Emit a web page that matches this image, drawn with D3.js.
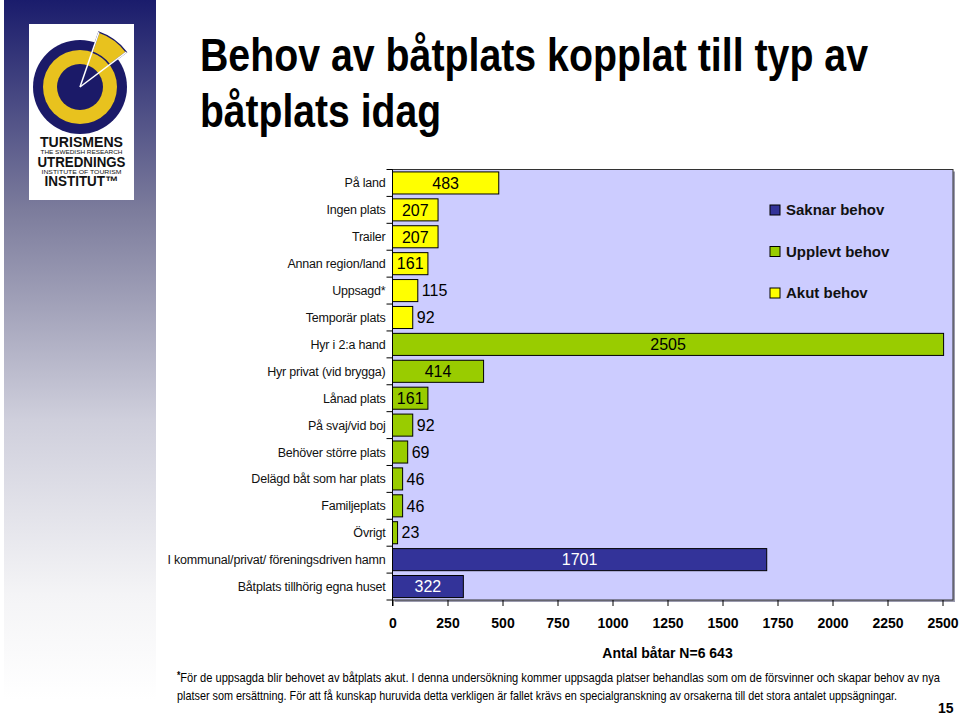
<!DOCTYPE html>
<html>
<head>
<meta charset="utf-8"/>
<title>Behov av båtplats</title>
<script src="https://cdn.jsdelivr.net/npm/d3@7"></script>
<style>
	body{ margin:0; background:#fff; }
	svg text{ font-family:"Liberation Sans", Arial, sans-serif; }
	svg text.narrow{ font-family:"Liberation Sans Narrow", "Liberation Sans", Arial, sans-serif; }
</style>
</head>
<body>
<div id="chart"></div>
<script>
// values
var categories = ["På land", "Ingen plats", "Trailer", "Annan region/land", "Uppsagd*", "Temporär plats",
	"Hyr i 2:a hand", "Hyr privat (vid brygga)", "Lånad plats", "På svaj/vid boj", "Behöver större plats",
	"Delägd båt som har plats", "Familjeplats", "Övrigt",
	"I kommunal/privat/ föreningsdriven hamn", "Båtplats tillhörig egna huset"];
var values = [483, 207, 207, 161, 115, 92, 2505, 414, 161, 92, 69, 46, 46, 23, 1701, 322];
var groups = ["Akut behov", "Akut behov", "Akut behov", "Akut behov", "Akut behov", "Akut behov",
	"Upplevt behov", "Upplevt behov", "Upplevt behov", "Upplevt behov", "Upplevt behov",
	"Upplevt behov", "Upplevt behov", "Upplevt behov", "Saknar behov", "Saknar behov"];
var seriesNames = ["Saknar behov", "Upplevt behov", "Akut behov"];
var seriesColors = ["#333399", "#99cc00", "#ffff00"];
var labelColors = ["#ffffff", "#000000", "#000000"];
var xTicks = [0, 250, 500, 750, 1000, 1250, 1500, 1750, 2000, 2250, 2500];

var width = 960, height = 714;
var svg = d3.select("#chart").append("svg")
	.attr("width", width)
	.attr("height", height);

var defs = svg.append("defs");
var grad = defs.append("linearGradient")
	.attr("id", "strip")
	.attr("x1", 0).attr("y1", 0).attr("x2", 0).attr("y2", 1);
grad.append("stop").attr("offset", "0").attr("stop-color", "#1a1c6c");
grad.append("stop").attr("offset", "0.3").attr("stop-color", "#7c7c9c");
grad.append("stop").attr("offset", "0.6").attr("stop-color", "#cfcfdc");
grad.append("stop").attr("offset", "0.85").attr("stop-color", "#f4f4f6");
grad.append("stop").attr("offset", "1").attr("stop-color", "#ffffff");

// left strip + logo
svg.append("rect")
	.attr("x", 4).attr("y", 0)
	.attr("width", 152).attr("height", 700)
	.attr("fill", "url(#strip)");

var logo = svg.append("g");
logo.append("rect")
	.attr("x", 29).attr("y", 24)
	.attr("width", 105).attr("height", 176)
	.attr("fill", "#fff");
var cx = 80, cy = 87;
logo.append("circle").attr("cx", cx).attr("cy", cy).attr("r", 47).attr("fill", "#1b1a68");
logo.append("circle").attr("cx", cx).attr("cy", cy).attr("r", 37).attr("fill", "#e8c21e");
logo.append("circle").attr("cx", cx).attr("cy", cy).attr("r", 23).attr("fill", "#1b1a68");
var a0 = 19 * Math.PI / 180, a1 = 53 * Math.PI / 180;
logo.append("path")
	.attr("transform", "translate(" + cx + "," + cy + ")")
	.attr("d", d3.arc()({innerRadius: 37, outerRadius: 58, startAngle: a0, endAngle: a1}))
	.attr("fill", "#e8c21e")
	.attr("stroke", "#1b1a68")
	.attr("stroke-width", 1.5);
[a0, a1].forEach(function(a){
	logo.append("line")
		.attr("x1", cx).attr("y1", cy)
		.attr("x2", cx + 58 * Math.sin(a)).attr("y2", cy - 58 * Math.cos(a))
		.attr("stroke", "#fff").attr("stroke-width", 1.5);
});
var logoText = [
	{t: "TURISMENS", y: 147, s: 14, w: 83, b: true},
	{t: "THE SWEDISH RESEARCH", y: 154, s: 6, w: 82, b: false},
	{t: "UTREDNINGS", y: 167, s: 14, w: 88, b: true},
	{t: "INSTITUTE OF TOURISM", y: 173.5, s: 6, w: 80, b: false},
	{t: "INSTITUT\u2122", y: 186, s: 14, w: 74, b: true}
];
logoText.forEach(function(d){
	logo.append("text")
		.attr("x", 81.5 - d.w / 2).attr("y", d.y)
		.attr("textLength", d.w).attr("lengthAdjust", "spacingAndGlyphs")
		.style("font-size", d.s + "px")
		.style("font-weight", d.b ? "bold" : "normal")
		.attr("fill", "#111")
		.text(d.t);
});

// title
svg.append("text")
	.attr("class", "narrow")
	.attr("x", 200).attr("y", 71)
	.attr("textLength", 668).attr("lengthAdjust", "spacingAndGlyphs")
	.style("font-size", "47px").style("font-weight", "bold")
	.text("Behov av båtplats kopplat till typ av");
svg.append("text")
	.attr("class", "narrow")
	.attr("x", 200).attr("y", 127)
	.attr("textLength", 241).attr("lengthAdjust", "spacingAndGlyphs")
	.style("font-size", "47px").style("font-weight", "bold")
	.text("båtplats idag");

// plot area
var pLeft = 392.5, pTop = 169.5, pBottom = 600, pRight = 953;
var x = d3.scaleLinear().domain([0, 2500]).range([pLeft, 942.5]);
var y = d3.scaleBand().domain(categories).range([pTop, pBottom]).paddingInner(0.18).paddingOuter(0.09);

svg.append("rect")
	.attr("x", pLeft + 2).attr("y", pTop + 2)
	.attr("width", pRight - pLeft).attr("height", pBottom - pTop)
	.attr("fill", "#9a9aae");
svg.append("rect")
	.attr("x", pLeft).attr("y", pTop)
	.attr("width", pRight - pLeft).attr("height", pBottom - pTop)
	.attr("fill", "#ccccff")
	.attr("stroke", "#333")
	.attr("stroke-width", 1);

var color = d3.scaleOrdinal().domain(seriesNames).range(seriesColors);
var lcolor = d3.scaleOrdinal().domain(seriesNames).range(labelColors);

var rows = categories.map(function(c, i){ return {cat: c, val: values[i], grp: groups[i]}; });

svg.append("g").selectAll("rect")
	.data(rows)
	.enter().append("rect")
	.attr("x", x(0))
	.attr("y", function(d){ return y(d.cat); })
	.attr("width", function(d){ return x(d.val) - x(0); })
	.attr("height", y.bandwidth())
	.attr("fill", function(d){ return color(d.grp); })
	.attr("stroke", "#000")
	.attr("stroke-width", 1);

var labels = svg.append("g").selectAll("text")
	.data(rows)
	.enter().append("text")
	.attr("y", function(d){ return y(d.cat) + y.bandwidth() / 2; })
	.attr("dy", "0.36em")
	.style("font-size", "16px")
	.text(function(d){ return d.val; });
labels.each(function(d){
	var t = d3.select(this);
	var w = this.getComputedTextLength();
	var bw = x(d.val) - x(0);
	if (bw >= w + 6){
		t.attr("x", x(0) + bw / 2).attr("text-anchor", "middle").attr("fill", lcolor(d.grp));
	} else {
		t.attr("x", x(d.val) + 4).attr("text-anchor", "start").attr("fill", "#000");
	}
});

// axes
var yAxis = svg.append("g")
	.attr("transform", "translate(" + pLeft + ",0)");
yAxis.append("line")
	.attr("x1", 0).attr("x2", 0).attr("y1", pTop).attr("y2", pBottom + 6)
	.attr("stroke", "#000");
yAxis.selectAll(".tk")
	.data(categories.concat(["_end"]))
	.enter().append("line")
	.attr("x1", -6).attr("x2", 0)
	.attr("y1", function(d, i){ return pTop + i * y.step(); })
	.attr("y2", function(d, i){ return pTop + i * y.step(); })
	.attr("stroke", "#000");
yAxis.selectAll(".lbl")
	.data(categories)
	.enter().append("text")
	.attr("x", -7)
	.attr("y", function(d){ return y(d) + y.bandwidth() / 2; })
	.attr("dy", "0.36em")
	.attr("text-anchor", "end")
	.style("font-size", "12.5px")
	.style("letter-spacing", "-0.2px")
	.attr("fill", "#111")
	.text(function(d){ return d; });

var xAxis = d3.axisBottom(x)
	.tickValues(xTicks)
	.tickFormat(d3.format("d"))
	.tickSize(6)
	.tickPadding(12);
var xg = svg.append("g")
	.attr("transform", "translate(0," + pBottom + ")")
	.call(xAxis);
xg.select(".domain").remove();
xg.selectAll("line").attr("stroke", "#000");
xg.selectAll("text")
	.style("font-size", "14px").style("font-weight", "bold")
	.style("font-family", "'Liberation Sans', Arial, sans-serif")
	.attr("fill", "#000");

svg.append("text")
	.attr("x", x(1250)).attr("y", 658)
	.attr("text-anchor", "middle")
	.style("font-size", "14px").style("font-weight", "bold")
	.text("Antal båtar N=6 643");

// legend
var legend = svg.append("g").selectAll("g")
	.data(seriesNames)
	.enter().append("g")
	.attr("transform", function(d, i){ return "translate(770," + (210 + i * 41.5) + ")"; });
legend.append("rect")
	.attr("x", 0).attr("y", -5)
	.attr("width", 10).attr("height", 10)
	.attr("fill", function(d){ return color(d); })
	.attr("stroke", "#000");
legend.append("text")
	.attr("x", 16).attr("dy", "0.36em")
	.style("font-size", "15px").style("font-weight", "bold")
	.attr("fill", "#111")
	.text(function(d){ return d; });

// footnote
var note = svg.append("text")
	.attr("class", "narrow")
	.attr("x", 177).attr("y", 682)
	.attr("textLength", 763).attr("lengthAdjust", "spacingAndGlyphs")
	.style("font-size", "13px");
note.append("tspan").attr("dy", "-3").style("font-size", "10px").style("font-weight", "bold").text("*");
note.append("tspan").attr("dy", "3").text("För de uppsagda blir behovet av båtplats akut. I denna undersökning kommer uppsagda platser behandlas som om de försvinner och skapar behov av nya");
svg.append("text")
	.attr("class", "narrow")
	.attr("x", 177).attr("y", 700)
	.attr("textLength", 720).attr("lengthAdjust", "spacingAndGlyphs")
	.style("font-size", "13px")
	.text("platser som ersättning. För att få kunskap huruvida detta verkligen är fallet krävs en specialgranskning av orsakerna till det stora antalet uppsägningar.");
svg.append("text")
	.attr("x", 938).attr("y", 713)
	.style("font-size", "14px").style("font-weight", "bold")
	.text("15");
</script>
</body>
</html>
